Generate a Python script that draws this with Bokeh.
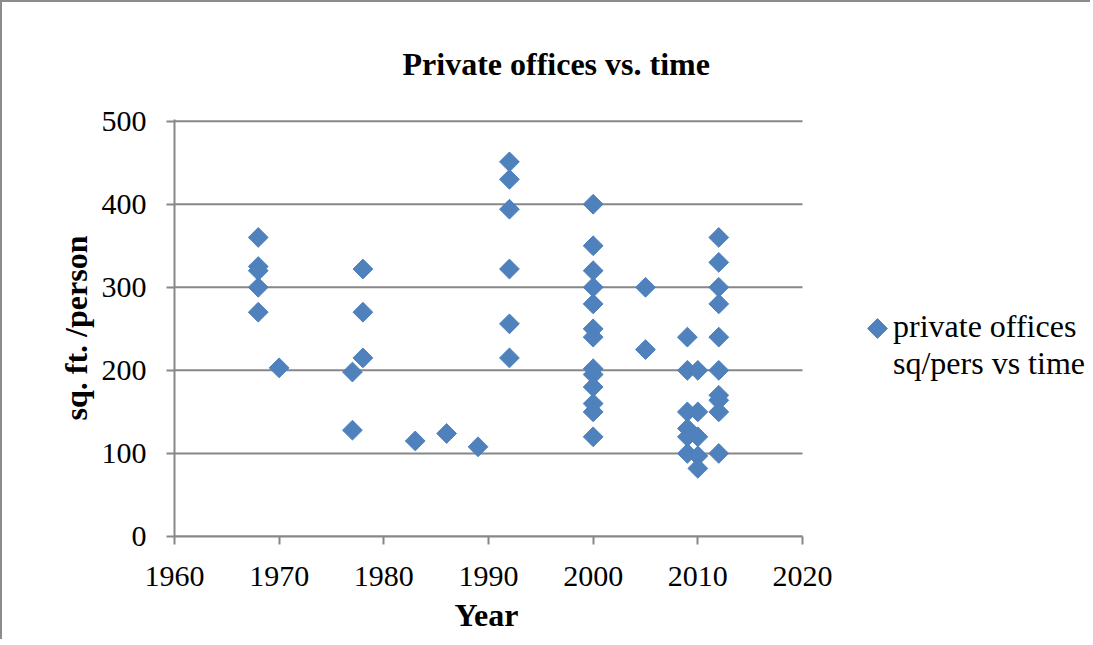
import numpy as np
from bokeh.plotting import figure
from bokeh.models import FixedTicker, Legend, LegendItem, Range1d, ColumnDataSource, Title
from bokeh.embed import file_html
from bokeh.resources import INLINE

# ---- data ----
years = [1968, 1968, 1968, 1968, 1968,
         1970,
         1977, 1977,
         1978, 1978, 1978,
         1983, 1986, 1989,
         1992, 1992, 1992, 1992, 1992, 1992,
         2000, 2000, 2000, 2000, 2000, 2000, 2000, 2000, 2000, 2000, 2000, 2000, 2000,
         2005, 2005,
         2009, 2009, 2009, 2009, 2009, 2009,
         2010, 2010, 2010, 2010, 2010,
         2012, 2012, 2012, 2012, 2012, 2012, 2012, 2012, 2012, 2012]
sq_ft = [360, 325, 320, 300, 270,
         203,
         198, 128,
         322, 270, 215,
         115, 124, 108,
         451, 430, 394, 322, 256, 215,
         400, 350, 320, 300, 280, 250, 240, 202, 195, 180, 160, 150, 120,
         300, 225,
         240, 200, 150, 130, 120, 100,
         200, 150, 120, 97, 82,
         360, 330, 300, 280, 240, 200, 170, 164, 150, 100]
x_ticks = [1960, 1970, 1980, 1990, 2000, 2010, 2020]
y_ticks = [0, 100, 200, 300, 400, 500]
series_label = "private offices\nsq/pers vs time"
title_text = "Private offices vs. time"
x_label = "Year"
y_label = "sq. ft. /person"

FONT = "Liberation Serif"
BLUE = "#4F81BD"
GRID = "#878787"

# layout: the frame is widened to the right so the legend marker can be drawn
AXIS_PX = 628          # pixel width of the 1960-2020 axis
FRAME_PX = 916         # frame reaches the right edge of the chart
x_end = x_ticks[0] + (x_ticks[-1] - x_ticks[0]) * FRAME_PX / AXIS_PX
FRAME_H = 417
y_end = y_ticks[-1] + 2
# legend marker position (screen px inside the frame -> data units)
leg_px, leg_py = 703, 208          # from frame left / frame bottom
leg_x = x_ticks[0] + leg_px * (x_end - x_ticks[0]) / FRAME_PX
leg_y = leg_py * y_end / FRAME_H

src = ColumnDataSource(dict(x=years, y=sq_ft))

p = figure(frame_width=FRAME_PX, frame_height=FRAME_H,
           min_border_left=172, min_border_top=117,
           min_border_right=0, min_border_bottom=100,
           x_range=Range1d(x_ticks[0], x_end),
           y_range=Range1d(y_ticks[0], y_end),
           output_backend="svg", toolbar_location=None)
p.styles = {"border-top": "2px solid #8c8c8c", "border-left": "2px solid #8c8c8c"}

# horizontal gridlines, limited to the axis extent
p.segment(x0=[x_ticks[0]] * len(y_ticks), x1=[x_ticks[-1]] * len(y_ticks),
          y0=y_ticks, y1=y_ticks, line_color=GRID, line_width=2)

r = p.scatter("x", "y", source=src, marker="square", size=14, angle=np.pi / 4,
              fill_color=BLUE, line_color=BLUE, line_width=1)

# legend marker
p.scatter(x=[leg_x], y=[leg_y], marker="square", size=14, angle=np.pi / 4,
          fill_color=BLUE, line_color=BLUE, line_width=1)

# title
p.title.text = title_text
p.title.text_font = FONT
p.title.text_font_size = "32px"
p.title.text_font_style = "bold"
p.title.text_color = "black"
p.title.align = "left"
p.title.offset = 228
p.title.standoff = 76

# axes
for ax in (p.xaxis[0], p.yaxis[0]):
    ax.axis_line_color = GRID
    ax.axis_line_width = 2
    ax.major_tick_line_color = GRID
    ax.major_tick_line_width = 2
    ax.major_tick_out = 8
    ax.major_tick_in = 0
    ax.minor_tick_line_color = None
    ax.major_label_text_font = FONT
    ax.major_label_text_font_size = "30px"
    ax.major_label_text_color = "black"
    ax.axis_label_text_font = FONT
    ax.axis_label_text_font_size = "32px"
    ax.axis_label_text_font_style = "bold"
    ax.axis_label_text_color = "black"

p.xaxis.ticker = FixedTicker(ticks=x_ticks)
p.yaxis.ticker = FixedTicker(ticks=y_ticks)
p.xaxis.bounds = (x_ticks[0], x_ticks[-1])
p.yaxis.axis_label = y_label
p.xaxis.major_label_standoff = 22
p.yaxis.major_label_standoff = 20
p.yaxis.axis_label_standoff = 5

# x-axis title centred under the 1960-2020 axis
p.add_layout(Title(text=x_label, text_font=FONT, text_font_size="32px",
                   text_font_style="bold", text_color="black",
                   align="left", offset=280, standoff=13), "below")

p.xgrid.grid_line_color = None
p.ygrid.grid_line_color = None
p.outline_line_color = None
p.background_fill_color = "white"
p.border_fill_color = "white"

# legend text (marker drawn above)
dummy = p.scatter(x=[np.nan], y=[np.nan], marker="square", size=1, alpha=0)
legend = Legend(items=[LegendItem(label=series_label, renderers=[dummy])],
                location=(leg_px - 10, 154))
legend.label_text_font = FONT
legend.label_text_font_size = "32px"
legend.label_text_color = "black"
legend.border_line_color = None
legend.background_fill_alpha = 0
legend.margin = 0
legend.padding = 0
legend.glyph_width = 20
legend.label_standoff = 6
p.add_layout(legend, "center")

open("out.html", "w").write(file_html(p, INLINE))
